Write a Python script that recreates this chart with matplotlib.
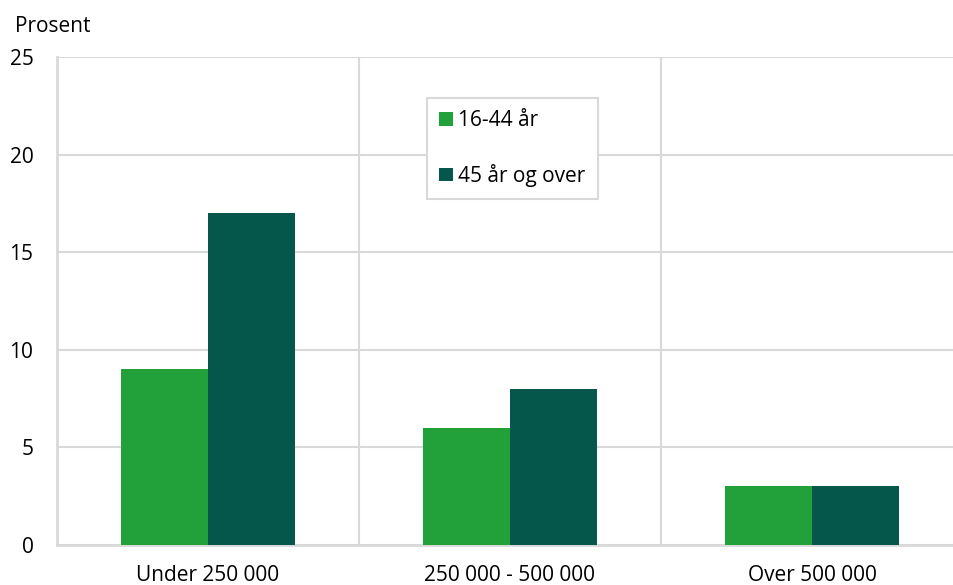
import numpy as np
import matplotlib.pyplot as plt

plt.rcParams['font.family'] = ['Open Sans', 'DejaVu Sans']

categories = ['Under 250 000', '250 000 - 500 000', 'Over 500 000']
young = [9, 6, 3]
older = [17, 8, 3]
series_names = ['16-44 år', '45 år og over']
yticks = [0, 5, 10, 15, 20, 25]

light_green = '#22a13a'
dark_green = '#04574a'
grid_col = '#d9d9d9'
fs = 15

fig = plt.figure(figsize=(9.54, 5.85), dpi=100)
ax = fig.add_axes([57/954, 1 - 545/585, 906/954, 488/585])

x = np.arange(len(categories))
w = 0.287
ax.bar(x - w/2, young, w, color=light_green, label=series_names[0], zorder=3)
ax.bar(x + w/2, older, w, color=dark_green, label=series_names[1], zorder=3)

ax.set_xlim(-0.5, len(categories) - 0.5)
ax.set_ylim(0, 25)
ax.set_yticks(yticks)
ax.set_yticklabels([str(t) for t in yticks], fontsize=fs)
ax.set_xticks(x)
ax.set_xticklabels(categories, fontsize=fs)
ax.tick_params(axis='y', length=0, pad=17)
ax.tick_params(axis='x', length=0, pad=14.5)

# horizontal grid + vertical separators between categories
ax.grid(axis='y', color=grid_col, linewidth=1.5, zorder=0)
for sep in x[:-1] + 0.5:
    ax.axvline(sep, color=grid_col, linewidth=1.5, zorder=0)

for s in ['top', 'right']:
    ax.spines[s].set_visible(False)
for s in ['left', 'bottom']:
    ax.spines[s].set_color(grid_col)
    ax.spines[s].set_linewidth(2)

leg = ax.legend(loc='upper left', bbox_to_anchor=(0.408, 0.916), fontsize=fs,
                frameon=True, fancybox=False, edgecolor=grid_col, framealpha=1,
                handlelength=0.65, handleheight=0.65, handletextpad=0.25,
                labelspacing=1.55, borderpad=0.6, borderaxespad=0)
leg.get_frame().set_linewidth(1.5)

fig.text(15/954, 1 - 27/585, 'Prosent', fontsize=fs, va='center', ha='left')

fig.savefig('out.png', dpi=100)
